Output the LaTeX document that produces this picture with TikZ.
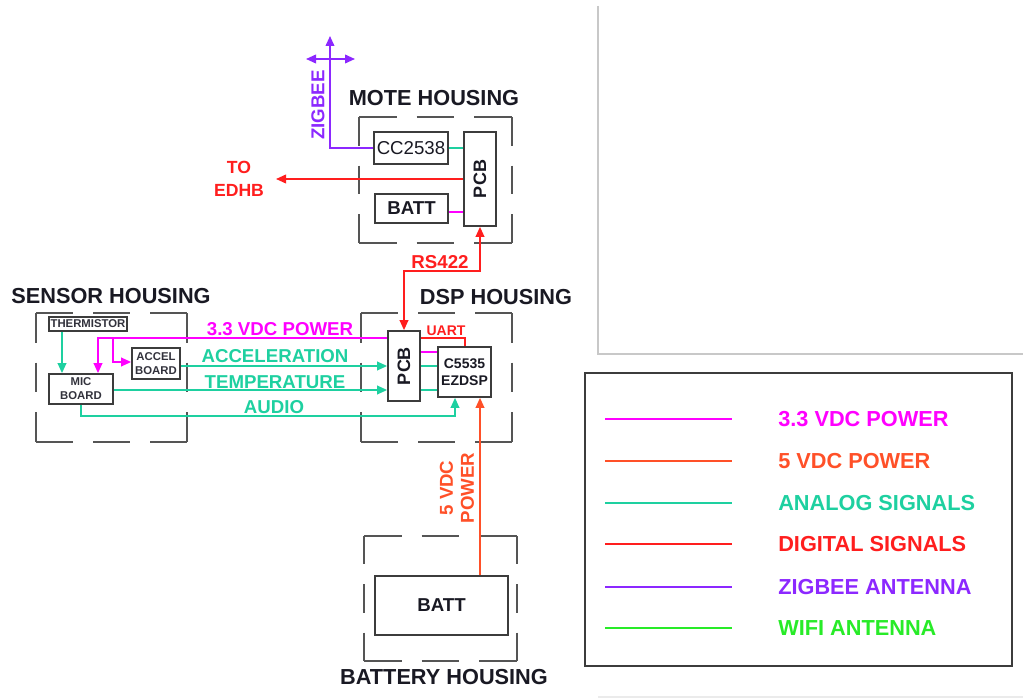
\documentclass[tikz,border=0pt]{standalone}
\usepackage{fontspec}
\setmainfont{Liberation Sans}
\usetikzlibrary{arrows.meta}
\definecolor{cmag}{RGB}{255,0,255}
\definecolor{corg}{RGB}{255,80,40}
\definecolor{cteal}{RGB}{30,208,160}
\definecolor{cred}{RGB}{255,30,30}
\definecolor{cpur}{RGB}{140,40,255}
\definecolor{cgrn}{RGB}{40,235,40}
\definecolor{ctxt}{RGB}{25,25,35}
\definecolor{cbox}{RGB}{60,60,60}
\definecolor{chous}{RGB}{85,85,85}
\newcommand\housing[4]{%
  \pgfmathsetmacro\hsdh{((#3)-(#1)-40)/3*0.75}%
  \pgfmathsetmacro\hsdv{((#4)-(#2)-40)/3*0.75}%
  \draw[hous, dash pattern=on \hsdh pt off 15pt] (#1,#2) -- (#3,#2);
  \draw[hous, dash pattern=on \hsdh pt off 15pt] (#1,#4) -- (#3,#4);
  \draw[hous, dash pattern=on \hsdv pt off 15pt] (#1,#2) -- (#1,#4);
  \draw[hous, dash pattern=on \hsdv pt off 15pt] (#3,#2) -- (#3,#4);
}
% box node: name, x1, y1, x2, y2, options, text
\newcommand\bx[7]{%
  \pgfmathsetmacro\bxw{((#4)-(#2))*0.75}%
  \pgfmathsetmacro\bxh{((#5)-(#3))*0.75}%
  \pgfmathsetmacro\bxcx{((#4)+(#2))/2}%
  \pgfmathsetmacro\bxcy{((#5)+(#3))/2}%
  \node[blk, minimum width=\bxw pt, minimum height=\bxh pt, #6] (#1) at (\bxcx,\bxcy) {#7};
}
\begin{document}
\begin{tikzpicture}[x=0.75pt,y=-0.75pt,
  >={Triangle[length=7.5pt,width=6.5pt]},
  hous/.style={draw=chous, line width=1.6pt},
  blk/.style={draw=cbox, line width=1.3pt, inner sep=0pt, text=ctxt, align=center},
  analog/.style={draw=cteal, line width=1.2pt},
  power33/.style={draw=cmag, line width=1.2pt},
  power5/.style={draw=corg, line width=1.2pt},
  digital/.style={draw=cred, line width=1.2pt},
  zigbee/.style={draw=cpur, line width=1.2pt},
  wifi/.style={draw=cgrn, line width=1.2pt},
  head/.style={font=\bfseries\fontsize{16.3}{19}\selectfont, text=ctxt, inner sep=0pt},
  lbl/.style={font=\bfseries\fontsize{14}{17}\selectfont, inner sep=0pt, align=center},
  small/.style={font=\bfseries\fontsize{8.5}{10.5}\selectfont, text={rgb,255:red,50;green,50;blue,60}},
  leg/.style={font=\bfseries\fontsize{16.3}{19}\selectfont, inner sep=0pt, anchor=west}]
\useasboundingbox (0,0) rectangle (1023,698);
% screenshot frame lines
\draw[draw={rgb,255:red,200;green,200;blue,200}, line width=1pt] (598,6) -- (598,354) -- (1023,354);
\draw[draw={rgb,255:red,235;green,235;blue,235}, line width=0.8pt] (598,697) -- (1023,697);

% housings
\housing{359}{117}{512}{243}
\housing{36}{313}{187}{442}
\housing{361}{313}{512}{442}
\housing{364}{536}{517}{661}

% headings
\node[head] (hmote) at (434,98) {MOTE HOUSING};
\node[head] (hsens) at (111,296) {SENSOR HOUSING};
\node[head] (hdsp) at (496,297) {DSP HOUSING};
\node[head] (hbatt) at (444,677) {BATTERY HOUSING};

% mote boxes
\bx{cc}{374}{132}{448}{164}{font=\fontsize{14}{16}\selectfont}{CC2538}
\bx{mpcb}{464}{132}{496}{226}{}{}
\node[rotate=90, font=\bfseries\fontsize{13.5}{16}\selectfont, text=ctxt] (mpcbt) at (mpcb.center) {PCB};
\bx{mbatt}{375}{194}{448}{223}{font=\bfseries\fontsize{14}{16}\selectfont}{BATT}

% dsp boxes
\bx{dpcb}{388}{331}{420}{401}{}{}
\node[rotate=90, font=\bfseries\fontsize{13.5}{16}\selectfont, text=ctxt] (dpcbt) at (dpcb.center) {PCB};
\bx{ezdsp}{438}{347}{491}{397}{font=\bfseries\fontsize{10.5}{12.75}\selectfont}{C5535\\EZDSP}

% sensor boxes
\bx{therm}{49}{317}{127}{331}{small}{THERMISTOR}
\bx{mic}{49}{374}{113}{404}{small}{MIC\\BOARD}
\bx{accel}{132}{348}{180}{379}{small}{ACCEL\\BOARD}

% battery box
\bx{bbatt}{375}{576}{508}{635}{font=\bfseries\fontsize{14}{16}\selectfont}{BATT}

% coordinates
\coordinate (edhb) at (276,179);
\coordinate (zigtop) at (330,36);
\coordinate (zl) at (306,59);
\coordinate (zr) at (355,59);
\coordinate (rsy) at (440,271);
\coordinate (uartc) at (465,338);
\coordinate (br) at (113,338);
\coordinate (aud) at (455,416);

% mote connectors
\draw[analog] (cc.east) -- (cc.east -| mpcb.west);
\draw[power33] (mbatt.east |- 0,212) -- (mpcb.west |- 0,212);
\draw[digital,->] (mpcb.west) -- (edhb);
\draw[zigbee,->] (cc.west) -| (zigtop);
\draw[zigbee,<->] (zl) -- (zr);
\draw[digital,<->] (dpcb.north) |- (rsy) -| (mpcb.south);

% dsp internal
\draw[digital] (uartc -| dpcb.east) -| (uartc |- ezdsp.north);
\draw[power33] (dpcb.east |- 0,352) -- (ezdsp.west |- 0,352);
\draw[analog] (dpcb.east |- 0,366) -- (ezdsp.west |- 0,366);
\draw[analog] (dpcb.east |- 0,390) -- (ezdsp.west |- 0,390);

% sensor connectors
\draw[analog,->] (therm.south -| 62,0) -- (mic.north -| 62,0);
\draw[power33,->] (dpcb.west |- 0,338) -| (mic.north -| 98,0);
\draw[power33,->] (br) |- (accel.west |- 0,362);
\draw[analog,->] (accel.east |- 0,366) -- (dpcb.west |- 0,366);
\draw[analog,->] (mic.east |- 0,390) -- (dpcb.west |- 0,390);
\draw[analog,->] (mic.south) |- (aud) -- (aud |- ezdsp.south);
\draw[power5,->] (bbatt.north -| 480,0) -- (ezdsp.south -| 480,0);

% labels
\node[lbl, text=cpur, rotate=90] (lzig) at (318,105) {ZIGBEE};
\node[lbl, text=cred, font=\bfseries\fontsize{13.2}{17}\selectfont] (ledhb) at (239,179) {TO\\EDHB};
\node[lbl, text=cred] (lrs) at (440,262) {RS422};
\node[lbl, text=cred, font=\bfseries\fontsize{10.5}{12}\selectfont] (luart) at (446,331) {UART};
\node[lbl, text=cmag] (l33) at (280,329) {3.3 VDC POWER};
\node[lbl, text=cteal] (lacc) at (275,356) {ACCELERATION};
\node[lbl, text=cteal] (ltemp) at (275,382) {TEMPERATURE};
\node[lbl, text=cteal] (laud) at (274,407) {AUDIO};
\node[lbl, text=corg, rotate=90, font=\bfseries\fontsize{14}{15.75}\selectfont] (l5v) at (457,488) {5 VDC\\POWER};

% legend
\bx{legend}{585}{373}{1012}{666}{line width=1.5pt}{}
\coordinate (la1) at (605,419); \coordinate (lb1) at (732,419);
\coordinate (la2) at (605,461); \coordinate (lb2) at (732,461);
\coordinate (la3) at (605,503); \coordinate (lb3) at (732,503);
\coordinate (la4) at (605,544); \coordinate (lb4) at (732,544);
\coordinate (la5) at (605,587); \coordinate (lb5) at (732,587);
\coordinate (la6) at (605,628); \coordinate (lb6) at (732,628);
\draw[power33] (la1) -- (lb1);
\draw[power5] (la2) -- (lb2);
\draw[analog] (la3) -- (lb3);
\draw[digital] (la4) -- (lb4);
\draw[zigbee] (la5) -- (lb5);
\draw[wifi] (la6) -- (lb6);
\node[leg, text=cmag] (t1) at (778,419) {3.3 VDC POWER};
\node[leg, text=corg] (t2) at (778,461) {5 VDC POWER};
\node[leg, text=cteal] (t3) at (778,503) {ANALOG SIGNALS};
\node[leg, text=cred] (t4) at (778,544) {DIGITAL SIGNALS};
\node[leg, text=cpur] (t5) at (778,587) {ZIGBEE ANTENNA};
\node[leg, text=cgrn] (t6) at (778,628) {WIFI ANTENNA};
\end{tikzpicture}
\end{document}
